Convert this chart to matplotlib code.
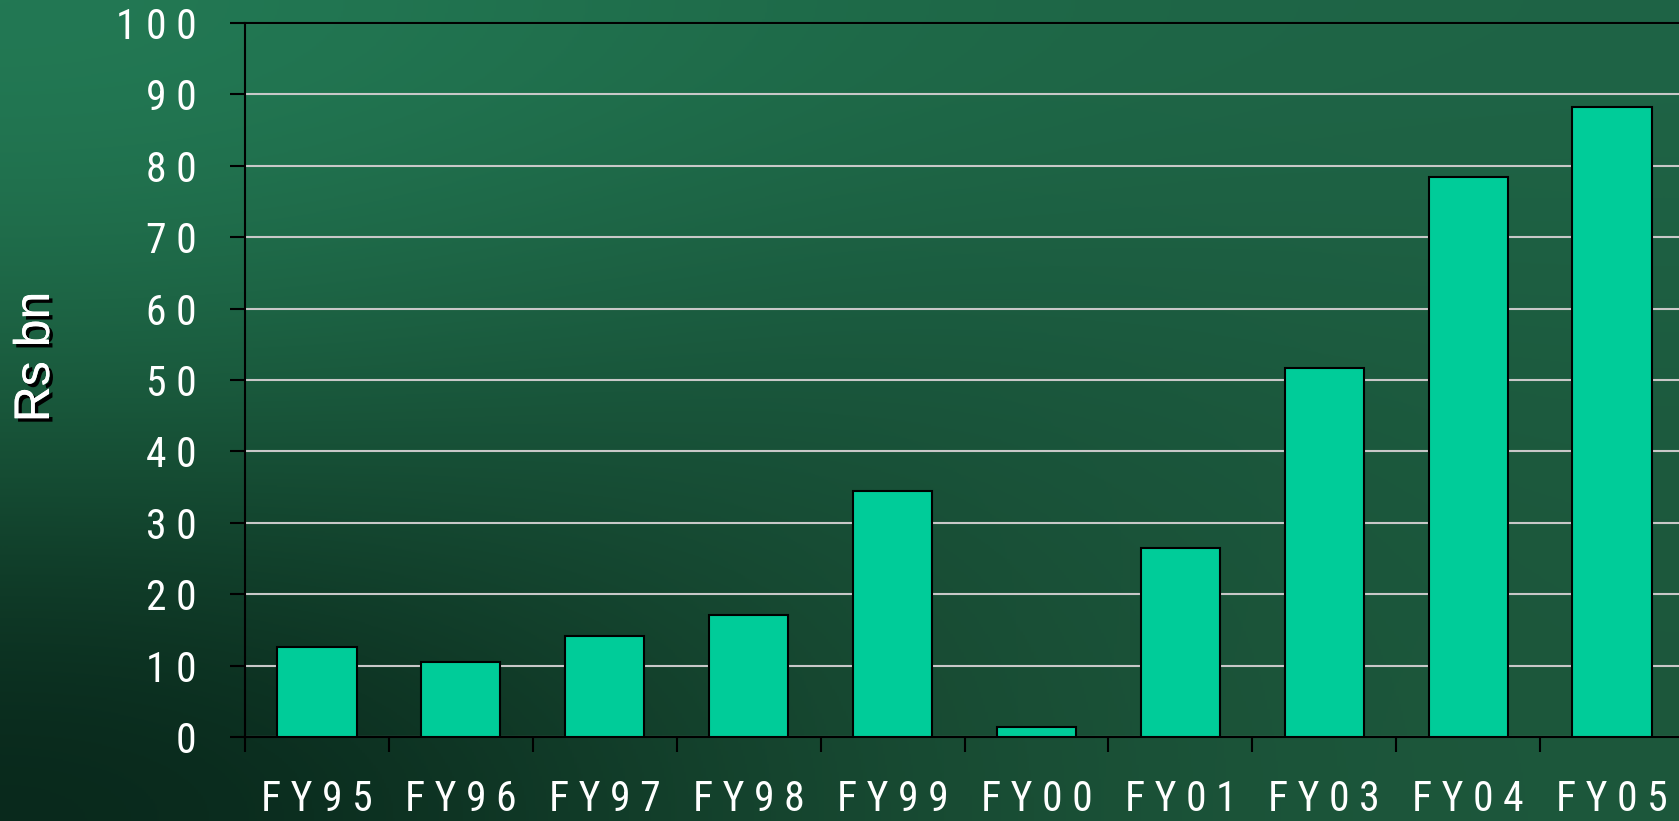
import numpy as np
import matplotlib
matplotlib.use("Agg")
import matplotlib.pyplot as plt
import matplotlib.patheffects as pe
from matplotlib.colors import to_rgb

# data
years = ["FY95", "FY96", "FY97", "FY98", "FY99", "FY00", "FY01", "FY03", "FY04", "FY05"]
values = [12.6, 10.5, 14.2, 17.1, 34.5, 1.4, 26.5, 51.7, 78.4, 88.2]
y_ticks = list(range(0, 101, 10))

label_font = ["Roboto Condensed", "DejaVu Sans"]


def spaced(s):
    # the slide spreads the letters out
    return " ".join(s)


fig = plt.figure(figsize=(16.79, 8.21), dpi=100)

# green slide background
bg = fig.add_axes([0, 0, 1, 1], zorder=-10)
corner = [["#237a55", "#1e6a48", "#1f6446"],
          ["#1a5a3c", "#174e37", "#1c5a3e"],
          ["#08261a", "#184a32", "#1d583c"]]
img = np.array([[to_rgb(c) for c in row] for row in corner])
bg.imshow(img, extent=[0, 1, 0, 1], aspect="auto", interpolation="bicubic")
bg.set_axis_off()

ax = fig.add_axes([245 / 1679, 84 / 821, 1439 / 1679, 714 / 821])
ax.patch.set_alpha(0)

x = np.arange(len(years))
ax.bar(x, values, width=0.55, color="#00cc99", edgecolor="black", linewidth=1.5, zorder=3)

ax.set_xlim(-0.5, len(years) - 0.5)
ax.set_ylim(0, 100)

ax.set_yticks(y_ticks)
ax.set_yticklabels([spaced(str(v)) for v in y_ticks])
ax.yaxis.grid(True, color="#c8c8c8", linewidth=1.5, zorder=1)
ax.set_axisbelow(True)

# ticks sit between categories, labels in the middle
ax.set_xticks(np.arange(-0.5, len(years), 1.0))
ax.set_xticklabels([])
ax.set_xticks(x, minor=True)
ax.set_xticklabels([spaced(y) for y in years], minor=True)

ax.tick_params(axis="y", which="major", direction="out", length=11, width=1.5,
               color="black", labelcolor="white", labelsize=30, pad=24)
ax.tick_params(axis="x", which="major", direction="out", length=11, width=1.5, color="black")
ax.tick_params(axis="x", which="minor", length=0, labelcolor="white", labelsize=30, pad=30)
for lab in ax.get_yticklabels() + ax.get_xticklabels(minor=True):
    lab.set_family(label_font)

for sp in ax.spines.values():
    sp.set_color("black")
    sp.set_linewidth(1.5)

fig.text(36 / 1679, 1 - 357 / 821, "Rs bn", rotation=90, color="white", fontsize=36,
         family=["Liberation Sans", "DejaVu Sans"], ha="center", va="center",
         path_effects=[pe.withSimplePatchShadow(offset=(2.5, -2.5), shadow_rgbFace="black", alpha=1),
                       pe.Normal()])

fig.savefig("out.png", dpi=100)
